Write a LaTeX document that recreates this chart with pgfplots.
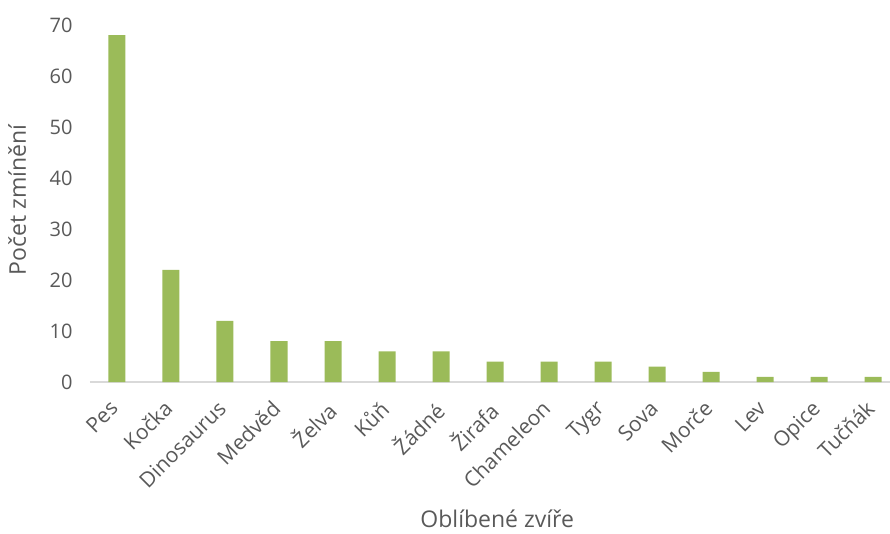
\documentclass[border=0pt]{standalone}
\usepackage{pgfplots}
\pgfplotsset{compat=1.18}
\usepackage{fontspec}
\setmainfont{Open Sans}
\definecolor{bargreen}{HTML}{9BBB59}
\definecolor{txt}{HTML}{595959}
\definecolor{axl}{HTML}{D9D9D9}
\begin{document}
\begin{tikzpicture}[x=1pt,y=1pt]
\useasboundingbox (-90,-151) rectangle (800,382);
\begin{axis}[
  at={(0,0)}, anchor=south west,
  scale only axis, width=800pt, height=357pt,
  xmin=-0.5, xmax=14.315, ymin=0, ymax=70,
  ytick={0,10,...,70},
  xtick={0,...,14},
  xticklabels={Pes,Kočka,Dinosaurus,Medvěd,Želva,Kůň,Žádné,Žirafa,Chameleon,Tygr,Sova,Morče,Lev,Opice,Tučňák},
  x tick label style={rotate=45, anchor=north east, xshift=-18pt, yshift=-6pt, font=\fontsize{21}{23}\selectfont, text=txt, inner sep=0pt},
  y tick label style={font=\fontsize{20}{22}\selectfont, text=txt, xshift=-14pt},
  /pgf/number format/assume math mode=true,
  major tick length=0pt,
  axis x line*=bottom, axis y line*=left,
  x axis line style={draw=axl, line width=1.2pt, -},
  y axis line style={draw=none},
  ytick style={draw=none}, xtick style={draw=none},
  clip=false,
  xlabel={Oblíbené zvíře}, ylabel={Počet zmínění},
  label style={font=\fontsize{23}{25}\selectfont, text=txt},
  xlabel style={at={(axis description cs:0.509,0)}, anchor=center, yshift=-137pt},
  ylabel style={at={(axis description cs:-0.091,0.51)}, anchor=center, rotate=0},
]
\addplot[ybar, bar width=17pt, fill=bargreen, draw=none] coordinates {
(0,68) (1,22) (2,12) (3,8) (4,8) (5,6) (6,6) (7,4) (8,4) (9,4) (10,3) (11,2) (12,1) (13,1) (14,1)};
\end{axis}
\end{tikzpicture}
\end{document}
